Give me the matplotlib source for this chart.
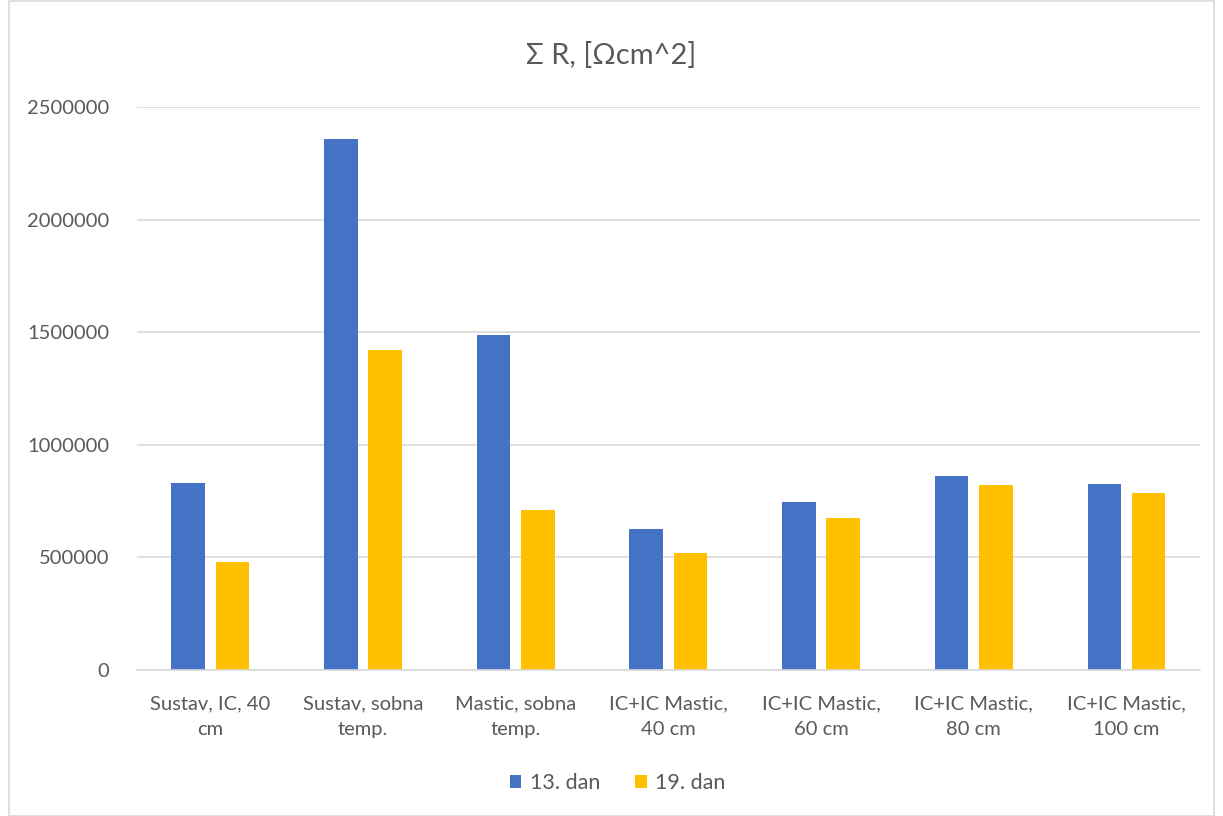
import matplotlib
matplotlib.use("Agg")
import matplotlib.pyplot as plt
import numpy as np
from matplotlib.patches import Rectangle

CATEGORIES = ["Sustav, IC, 40\ncm", "Sustav, sobna\ntemp.", "Mastic, sobna\ntemp.",
              "IC+IC Mastic,\n40 cm", "IC+IC Mastic,\n60 cm", "IC+IC Mastic,\n80 cm",
              "IC+IC Mastic,\n100 cm"]
DAN_13 = [832000, 2358000, 1488000, 626000, 746000, 863000, 826000]
DAN_19 = [481000, 1421000, 710000, 518000, 675000, 821000, 786000]
SERIES_NAMES = ["13. dan", "19. dan"]
Y_TICKS = [0, 500000, 1000000, 1500000, 2000000, 2500000]

plt.rcParams["font.family"] = ["Lato", "DejaVu Sans"]
TXT = "#595959"

fig = plt.figure(figsize=(12.23, 8.16), dpi=100)
ax = fig.add_axes([0.112, 0.179, 0.869, 0.690])

x = np.arange(len(CATEGORIES))
w = 0.22
off = 0.145
ax.bar(x - off, DAN_13, w, color="#4472C4", label=SERIES_NAMES[0], zorder=2)
ax.bar(x + off, DAN_19, w, color="#FFC000", label=SERIES_NAMES[1], zorder=2)

ax.set_xlim(-0.48, len(CATEGORIES) - 0.52)
ax.set_ylim(0, 2500000)
ax.set_yticks(Y_TICKS)
ax.set_yticklabels([str(v) for v in Y_TICKS], fontsize=14.5, color=TXT)
ax.set_xticks(x)
ax.set_xticklabels(CATEGORIES, fontsize=14.5, color=TXT, linespacing=1.65)
ax.tick_params(axis="x", length=0, pad=18)
ax.tick_params(axis="y", length=0, pad=20)
ax.grid(axis="y", color="#d9d9d9", linewidth=1.2, zorder=0)
for s in ["top", "right", "left"]:
    ax.spines[s].set_visible(False)
ax.spines["bottom"].set_color("#d9d9d9")
ax.spines["bottom"].set_linewidth(1.2)

fig.text(0.5, 0.932, "Σ R, [Ωcm^2]", ha="center", va="center", fontsize=21, color=TXT)
fig.legend(loc="center", bbox_to_anchor=(0.505, 0.04), ncol=2, frameon=False,
           fontsize=15.5, handlelength=0.55, handleheight=0.55, columnspacing=1.6,
           handletextpad=0.4, labelcolor=TXT)

fig.patches.append(Rectangle((0.007, 0.0), 0.986, 0.999, transform=fig.transFigure,
                             fill=False, edgecolor="#d9d9d9", linewidth=1.2))

fig.savefig("out.png", dpi=100)
